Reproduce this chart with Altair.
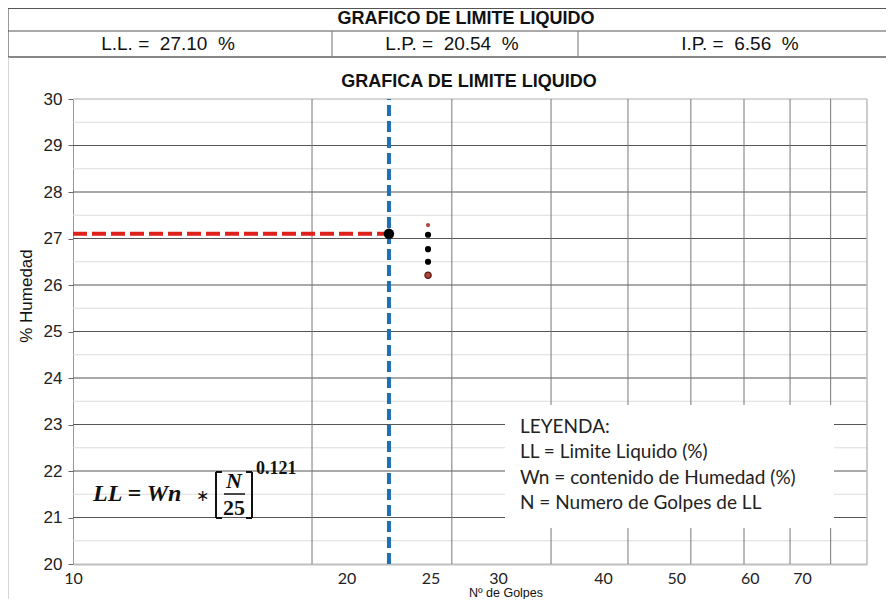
import altair as alt
import pandas as pd

# ---------------- data ----------------
ll_value = 27.10
lp_value = 20.54
ip_value = 6.56
n_ll = 25

pts_black_n = [28, 28, 28]
pts_black_w = [27.08, 26.77, 26.50]
pts_top_n = [28]
pts_top_w = [27.29]
pts_bottom_n = [28]
pts_bottom_w = [26.21]

grid_x = [20, 30, 40, 50, 60, 70, 80, 90]
grid_y_major = [21, 22, 23, 24, 25, 26, 27, 28, 29]
grid_y_minor = [20.5, 21.5, 22.5, 23.5, 24.5, 25.5, 26.5, 27.5, 28.5, 29.5]
y_ticks = [20, 21, 22, 23, 24, 25, 26, 27, 28, 29, 30]
x_tick_labels = ["10", "20", "25", "30", "40", "50", "60", "70"]
x_tick_pos = [10, 22.1, 28.2, 34.3, 46.5, 57.5, 71.2, 82.8]

legend_lines = ["LEYENDA:", "LL = Limite Liquido (%)",
                "Wn = contenido de Humedad (%)", "N = Numero de Golpes de LL"]

W, H = 794, 465
XS = alt.Scale(type="log", domain=[10, 100], nice=False)
YS = alt.Scale(domain=[20, 30], nice=False, zero=False)
one = pd.DataFrame({"k": [0]})
NB = "\u00a0"

# label expression from arrays
expr = "''"
for p, l in reversed(list(zip(x_tick_pos, x_tick_labels))):
    expr = f"abs(datum.value - {p}) < 0.01 ? '{l}' : ({expr})"

base_axes = alt.Chart(pd.DataFrame({"n": [10, 100], "w": [20, 30]})).mark_point(opacity=0).encode(
    x=alt.X("n:Q", scale=XS, axis=alt.Axis(
        values=x_tick_pos, labelExpr=expr, title=None, grid=False, ticks=False,
        domainColor="#bfbfbf", domainWidth=2, labelFont="Lato", labelFontSize=16,
        labelColor="#222", labelPadding=6, labelFlush=False, labelOverlap=False, labelBound=False)),
    y=alt.Y("w:Q", scale=YS, axis=alt.Axis(
        values=y_ticks, format="d", title=None, grid=False, tickSize=5, tickColor="#666",
        domainColor="#999", labelFont="Liberation Sans", labelFontSize=17, labelColor="#222",
        labelPadding=6)),
)

minor = alt.Chart(pd.DataFrame({"w": grid_y_minor})).mark_rule(color="#dcdcdc", strokeWidth=1.2).encode(
    y=alt.Y("w:Q", scale=YS))
major_y = alt.Chart(pd.DataFrame({"w": grid_y_major})).mark_rule(color="#555", strokeWidth=1).encode(
    y=alt.Y("w:Q", scale=YS))
top_b = alt.Chart(pd.DataFrame({"w": [30]})).mark_rule(color="#c8c8c8", strokeWidth=1.5).encode(
    y=alt.Y("w:Q", scale=YS))
vgrid = alt.Chart(pd.DataFrame({"n": grid_x})).mark_rule(color="#777", strokeWidth=1).encode(
    x=alt.X("n:Q", scale=XS))
right_b = alt.Chart(pd.DataFrame({"n": [100]})).mark_rule(color="#bbb", strokeWidth=1.5).encode(
    x=alt.X("n:Q", scale=XS))

legend_box = alt.Chart(one).mark_rect(fill="white").encode(
    x=alt.value(432), x2=alt.value(761), y=alt.value(306), y2=alt.value(429))
legend_texts = []
for i, t in enumerate(legend_lines):
    legend_texts.append(alt.Chart(one).mark_text(
        text=t, font="Lato", fontSize=19, align="left", baseline="middle", color="#222").encode(
        x=alt.value(447), y=alt.value(328 + i * 25.3)))

red = alt.Chart(pd.DataFrame({"a": [10], "b": [n_ll], "w": [ll_value]})).mark_rule(
    color="#e0201b", strokeWidth=4, strokeDash=[14, 5]).encode(
    x=alt.X("a:Q", scale=XS), x2="b:Q", y=alt.Y("w:Q", scale=YS))
blue = alt.Chart(pd.DataFrame({"n": [n_ll], "a": [20], "b": [30]})).mark_rule(
    color="#1f6fb4", strokeWidth=4, strokeDash=[11, 5]).encode(
    x=alt.X("n:Q", scale=XS), y=alt.Y("a:Q", scale=YS), y2="b:Q")

big_pt = alt.Chart(pd.DataFrame({"n": [n_ll], "w": [ll_value]})).mark_circle(
    color="black", size=110, opacity=1).encode(x=alt.X("n:Q", scale=XS), y=alt.Y("w:Q", scale=YS))
blk = alt.Chart(pd.DataFrame({"n": pts_black_n, "w": pts_black_w})).mark_circle(
    color="black", size=38, opacity=1).encode(x=alt.X("n:Q", scale=XS), y=alt.Y("w:Q", scale=YS))
topb = alt.Chart(pd.DataFrame({"n": pts_top_n, "w": pts_top_w})).mark_circle(
    color="#b5463f", size=18, opacity=1).encode(x=alt.X("n:Q", scale=XS), y=alt.Y("w:Q", scale=YS))
botb = alt.Chart(pd.DataFrame({"n": pts_bottom_n, "w": pts_bottom_w})).mark_point(
    filled=True, fill="#b0453e", stroke="#5a1a16", strokeWidth=1.2, size=40, opacity=1).encode(
    x=alt.X("n:Q", scale=XS), y=alt.Y("w:Q", scale=YS))

def txt(t, x, y, size, font="Liberation Sans", weight="normal", style="normal", align="center", angle=0, color="#111"):
    kw = dict(text=t, font=font, fontSize=size, fontWeight=weight, fontStyle=style,
              align=align, baseline="middle", color=color)
    if angle:
        kw["angle"] = angle
    return alt.Chart(one).mark_text(**kw).encode(x=alt.value(x), y=alt.value(y))

def rule(x, x2, y, y2, color="#555", w=1.2):
    return alt.Chart(one).mark_rule(color=color, strokeWidth=w).encode(
        x=alt.value(x), x2=alt.value(x2), y=alt.value(y), y2=alt.value(y2))

sp2 = NB + NB
header = [
    rule(-65, 822, -90.5, -90.5), rule(-65, 822, -68, -68), rule(-65, 822, -42, -42, color="#888", w=2),
    rule(-65, -65, -91, -42), rule(259, 259, -68, -42, color="#888"), rule(505, 505, -68, -42, color="#888"),
    rule(-65, -65, -42, 520, color="#c8c8c8", w=1.5),
    txt("GRAFICO DE LIMITE LIQUIDO", 393, -80, 18, weight="bold"),
    txt(f"L.L.{NB}={sp2}{ll_value:.2f}{sp2}%", 95, -55, 19),
    txt(f"L.P.{NB}={sp2}{lp_value:.2f}{sp2}%", 379, -55, 19),
    txt(f"I.P.{NB}={sp2}{ip_value:.2f}{sp2}%", 667, -55, 19),
    txt("GRAFICA DE LIMITE LIQUIDO", 396, -17, 18, weight="bold"),
    txt("% Humedad", -46, 197, 17, angle=270),
    txt("Nº de Golpes", 433, 493.5, 12.5),
]

formula = [
    txt("LL = Wn", 20, 395, 24, font="Liberation Serif", weight="bold", style="italic", align="left"),
    txt("∗", 129, 397, 16, font="Liberation Serif"),
    rule(143, 143, 373, 419, color="#111", w=2), rule(143, 149, 373, 373, color="#111", w=2),
    rule(143, 149, 419, 419, color="#111", w=2),
    rule(179, 179, 373, 419, color="#111", w=2), rule(173, 179, 373, 373, color="#111", w=2),
    rule(173, 179, 419, 419, color="#111", w=2),
    txt("N", 161, 382, 22, font="Liberation Serif", weight="bold", style="italic"),
    rule(151, 172, 395, 395, color="#111", w=1.5),
    txt("25", 161, 409, 22, font="Liberation Serif", weight="bold"),
    txt("0.121", 183, 370, 18, font="Liberation Serif", weight="bold", align="left"),
]

chart = alt.layer(
    base_axes, minor, major_y, top_b, vgrid, right_b, legend_box, *legend_texts,
    red, blue, big_pt, blk, topb, botb, *header, *formula
).properties(
    width=W, height=H, autosize=alt.AutoSizeParams(type="none"),
    padding={"left": 65, "top": 91, "right": 19, "bottom": 35},
    background="white",
).configure_view(stroke=None)

chart.save("out.html", embed_options={"renderer": "svg", "actions": False})
